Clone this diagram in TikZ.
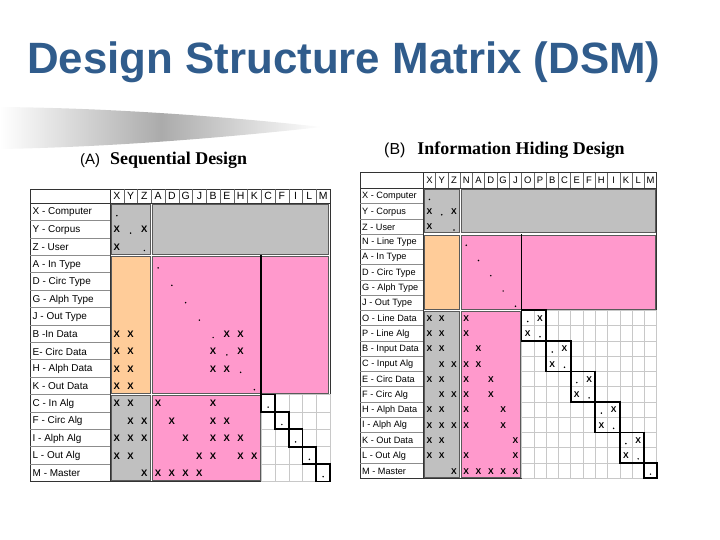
\documentclass[tikz,border=0pt]{standalone}
\usepackage{fontspec}
\setmainfont{Liberation Serif}
\setsansfont{Liberation Sans}
\definecolor{dsmgray}{HTML}{C0C0C0}
\definecolor{dsmpeach}{HTML}{FFCC99}
\definecolor{dsmpink}{HTML}{FF99CC}
\definecolor{titleblue}{HTML}{305C8C}
\definecolor{gridgray}{HTML}{C8C8C8}
\definecolor{blockedge}{HTML}{5A5A5A}
\tikzset{
 lblA/.style={anchor=west, inner sep=0pt, font=\sffamily\fontsize{10}{10}\selectfont},
 lblB/.style={anchor=west, inner sep=0pt, font=\sffamily\fontsize{9.2}{9.2}\selectfont},
 hdrA/.style={inner sep=0pt, font=\sffamily\fontsize{10.5}{10.5}\selectfont},
 hdrB/.style={inner sep=0pt, font=\sffamily\fontsize{9.5}{9.5}\selectfont},
 xmarkA/.style={inner sep=0pt, font=\sffamily\bfseries\fontsize{9.5}{9.5}\selectfont},
 xmarkB/.style={inner sep=0pt, font=\sffamily\bfseries\fontsize{8.5}{8.5}\selectfont},
 dotmark/.style={circle, fill=black, inner sep=0pt, minimum size=1.7bp},
 gridline/.style={draw=gridgray, line width=0.5bp},
 thickline/.style={draw=black, line width=1.8bp},
 frameline/.style={draw=black!80, line width=0.7bp},
 hdrline/.style={draw=black!60, line width=0.5bp},
 rowline/.style={draw=black!45, line width=0.5bp},
 blockfill/.style={draw=blockedge, line width=0.6bp},
}
\newcommand\dsmblock[5]{%
  \filldraw[blockfill, fill=#5]
   ({\mx+#1*\mw+1.3},{\my+#2*\mh+1.3}) rectangle ({\mx+#3*\mw-1.3},{\my+#4*\mh-1.3});}
\newcommand\dsmgrid[4]{%
  \foreach \i in {#1,...,#3} \draw[gridline] ({\mx+\i*\mw},{\my+#2*\mh}) -- ({\mx+\i*\mw},{\my+#4*\mh});
  \foreach \j in {#2,...,#4} \draw[gridline] ({\mx+#1*\mw},{\my+\j*\mh}) -- ({\mx+#3*\mw},{\my+\j*\mh});}
\newcommand\dsmbox[4]{%
  \draw[thickline] ({\mx+#1*\mw},{\my+#2*\mh}) rectangle ({\mx+#3*\mw},{\my+#4*\mh});}
\begin{document}
\begin{tikzpicture}[x=1bp,y=-1bp]
\useasboundingbox (0,0) rectangle (720,540);
% title
\node[anchor=base west, inner sep=0pt, text=titleblue, font=\sffamily\bfseries\fontsize{44}{44}\selectfont] (title) at (27,74) {Design Structure Matrix (DSM)};
% swoosh
\shade[left color=white, right color=white, middle color=black!33]
  (0,107) .. controls (120,108) and (240,118) .. (322,127)
  .. controls (240,136) and (120,147) .. (0,149) -- cycle;
% subtitles
\node[anchor=base west, inner sep=0pt] (subA) at (80,165)
  {{\sffamily\fontsize{15}{15}\selectfont (A)}\hspace{10bp}{\bfseries\fontsize{18}{18}\selectfont Sequential Design}};
\node[anchor=base west, inner sep=0pt] (subB) at (384,155)
  {{\sffamily\fontsize{16}{16}\selectfont (B)}\hspace{12bp}{\bfseries\fontsize{18}{18}\selectfont Information Hiding Design}};

% ================= Matrix A =================
\def\mx{110}\def\mw{13.75}\def\my{203}\def\mh{17.4}
\draw[frameline] (30,189) rectangle (330,{\my+16*\mh});
\draw[frameline] (30,\my) -- (330,\my);
\draw[frameline] (\mx,189) -- (\mx,{\my+16*\mh});
\foreach \i in {1,...,15} \draw[hdrline] ({\mx+\i*\mw},189) -- ({\mx+\i*\mw},\my);
\foreach \j in {1,...,15} \draw[rowline] (30,{\my+\j*\mh}) -- (\mx,{\my+\j*\mh});
\dsmgrid{11}{11}{16}{16}
\dsmblock{0}{0}{3}{3}{dsmgray}
\dsmblock{3}{0}{16}{3}{dsmgray}
\dsmblock{0}{3}{3}{11}{dsmpeach}
\dsmblock{3}{3}{16}{11}{dsmpink}
\dsmblock{0}{11}{3}{16}{dsmgray}
\dsmblock{3}{11}{11}{16}{dsmpink}
\draw[thickline] ({\mx+11*\mw},{\my+3*\mh}) -- ({\mx+11*\mw},{\my+11*\mh});
\foreach \i in {11,...,15} {\pgfmathtruncatemacro\ii{\i+1}\dsmbox{\i}{\i}{\ii}{\ii}}
\foreach \t [count=\k from 0] in {X,Y,Z,A,D,G,J,B,E,H,K,C,F,I,L,M}
  \node[hdrA] (ah-\k) at ({\mx+(\k+0.5)*\mw},196.3) {\t};
\foreach \t [count=\k from 0] in {X - Computer,Y - Corpus,Z - User,A - In Type,D - Circ Type,G - Alph Type,J - Out Type,B -In Data,E- Circ Data,H - Alph Data,K - Out Data,C - In Alg,F - Circ Alg,I - Alph Alg,L - Out Alg,M - Master}
  \node[lblA] (al-\k) at (32.5,{\my+(\k+0.5)*\mh+0.8}) {\t};
\foreach \i in {0,...,15}
  \node[dotmark] (ad-\i) at ({\mx+(\i+0.5)*\mw},{\my+(\i+0.5)*\mh+4}) {};
\foreach \r/\c in {1/0,1/2,2/0,
  7/0,7/1,7/8,7/9, 8/0,8/1,8/7,8/9, 9/0,9/1,9/7,9/8, 10/0,10/1,
  11/0,11/1,11/3,11/7, 12/1,12/2,12/4,12/7,12/8,
  13/0,13/1,13/2,13/5,13/7,13/8,13/9,
  14/0,14/1,14/6,14/7,14/9,14/10,
  15/2,15/3,15/4,15/5,15/6}
  \node[xmarkA] (ax-\r-\c) at ({\mx+(\c+0.5)*\mw},{\my+(\r+0.5)*\mh+0.5}) {X};

% ================= Matrix B =================
\def\mx{423.3}\def\mw{12.28}\def\my{188.3}\def\mh{15.26}
\draw[frameline] (360,172.7) rectangle (656.6,{\my+19*\mh});
\draw[frameline] (360,\my) -- (656.6,\my);
\draw[frameline] (\mx,172.7) -- (\mx,{\my+19*\mh});
\foreach \i in {1,...,18} \draw[hdrline] ({\mx+\i*\mw},172.7) -- ({\mx+\i*\mw},\my);
\foreach \j in {1,...,18} \draw[rowline] (360,{\my+\j*\mh}) -- (\mx,{\my+\j*\mh});
\dsmgrid{8}{8}{19}{19}
\dsmblock{0}{0}{3}{3}{dsmgray}
\dsmblock{3}{0}{19}{3}{dsmgray}
\dsmblock{0}{3}{3}{8}{dsmpeach}
\dsmblock{3}{3}{19}{8}{dsmpink}
\dsmblock{0}{8}{3}{19}{dsmgray}
\dsmblock{3}{8}{8}{19}{dsmpink}
\draw[thickline] ({\mx+8*\mw},{\my+3*\mh}) -- ({\mx+8*\mw},{\my+8*\mh});
\foreach \i in {8,10,12,14,16} {\pgfmathtruncatemacro\ii{\i+2}\dsmbox{\i}{\i}{\ii}{\ii}}
\dsmbox{18}{18}{19}{19}
\foreach \t [count=\k from 0] in {X,Y,Z,N,A,D,G,J,O,P,B,C,E,F,H,I,K,L,M}
  \node[hdrB] (bh-\k) at ({\mx+(\k+0.5)*\mw},180.5) {\t};
\foreach \t [count=\k from 0] in {X - Computer,Y - Corpus,Z - User,N - Line Type,A - In Type,D - Circ Type,G - Alph Type,J - Out Type,O - Line Data,P - Line Alg,B - Input Data,C - Input Alg,E - Circ Data,F - Circ Alg,H - Alph Data,I - Alph Alg,K - Out Data,L - Out Alg,M - Master}
  \node[lblB] (bl-\k) at (362,{\my+(\k+0.5)*\mh+0.6}) {\t};
\foreach \i in {0,...,18}
  \node[dotmark] (bd-\i) at ({\mx+(\i+0.5)*\mw},{\my+(\i+0.5)*\mh+3.5}) {};
\foreach \r/\c in {1/0,1/2,2/0,
  8/0,8/1,8/3,8/9, 9/0,9/1,9/3,9/8,
  10/0,10/1,10/4,10/11, 11/1,11/2,11/3,11/4,11/10,
  12/0,12/1,12/3,12/5,12/13, 13/1,13/2,13/3,13/5,13/12,
  14/0,14/1,14/3,14/6,14/15, 15/0,15/1,15/2,15/3,15/6,15/14,
  16/0,16/1,16/7,16/17, 17/0,17/1,17/3,17/7,17/16,
  18/2,18/3,18/4,18/5,18/6,18/7}
  \node[xmarkB] (bx-\r-\c) at ({\mx+(\c+0.5)*\mw},{\my+(\r+0.5)*\mh+0.5}) {X};
\end{tikzpicture}
\end{document}
